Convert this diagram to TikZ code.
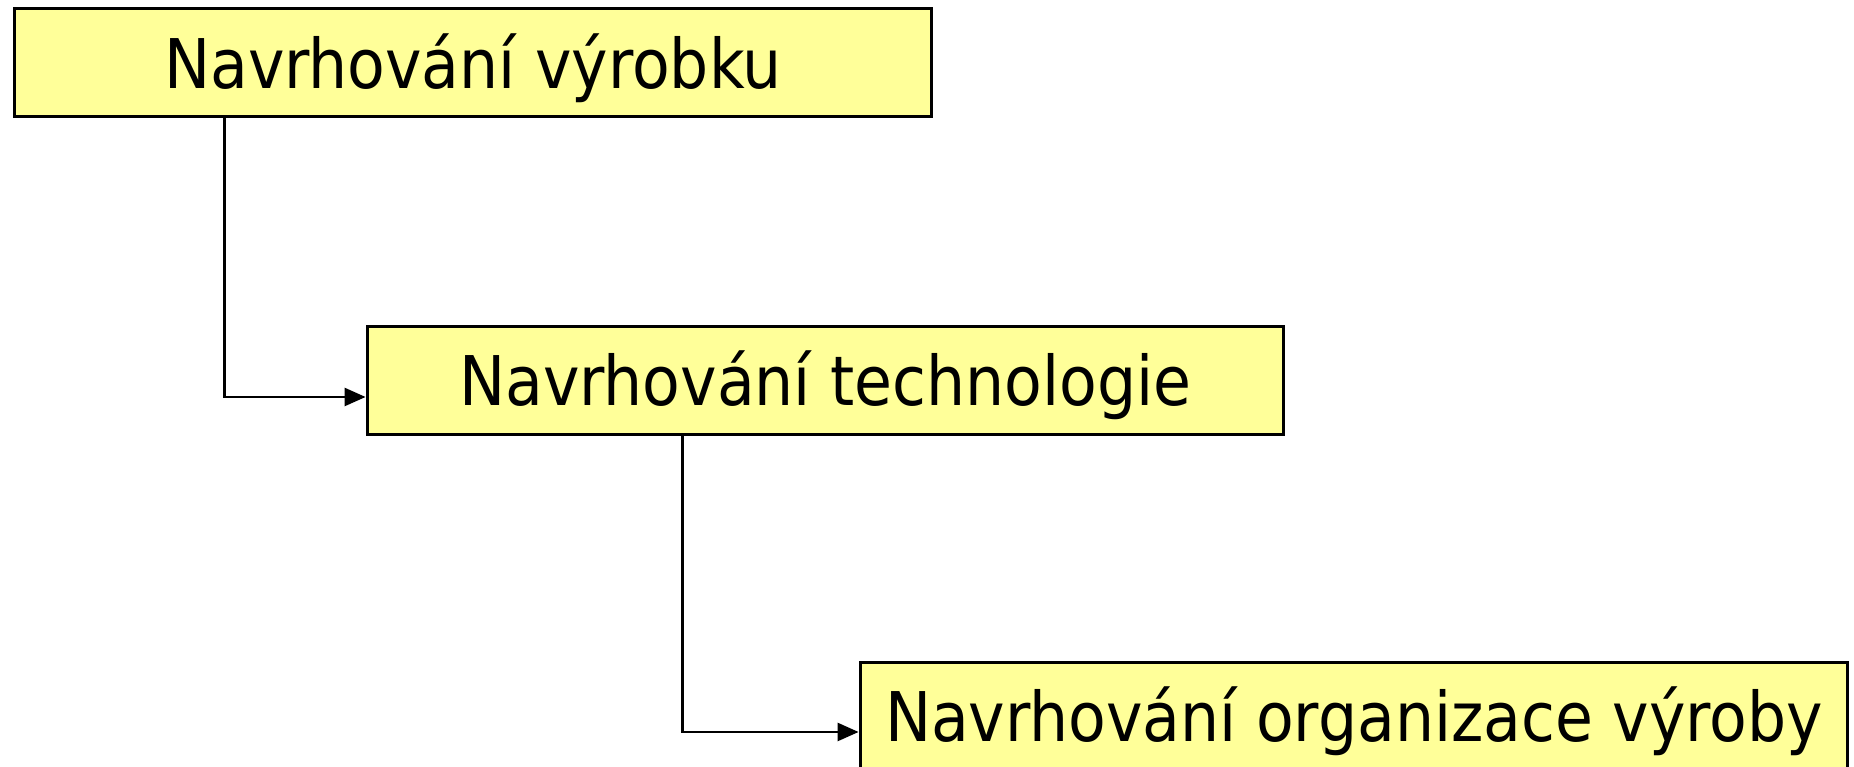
\documentclass[tikz,border=0pt]{standalone}
\usepackage{fontspec}
\setmainfont{DejaVu Sans Condensed}
\usepackage{tikz}
\usetikzlibrary{arrows.meta,calc}
\definecolor{boxfill}{HTML}{FFFF99}
\tikzset{
  phase/.style={draw=black, line width=0.06cm, fill=boxfill, inner sep=0pt,
    minimum height=2.16cm, text height=1.02cm, text depth=0pt,
    font=\fontsize{39}{41}\selectfont},
  link/.style={line width=0.05cm, -{Triangle[length=0.42cm,width=0.36cm]}}
}
\begin{document}
\begin{tikzpicture}[x=0.02cm, y=0.02cm]
    \useasboundingbox (0,0) rectangle (1854,767);
    \node[phase, minimum width=18.36cm] (vyrobek) at (473, 704) {Navrhování výrobku};
    \node[phase, minimum width=18.34cm] (technologie) at (825.5, 386.5) {Navrhování technologie};
    \node[phase, minimum width=19.76cm] (organizace) at (1354, 51) {Navrhování organizace výroby};

    % stepped connectors from each box into the next one
    \draw[link] ([xshift=4.24cm]vyrobek.south west) |- ([yshift=-0.33cm]technologie.west);
    \draw[link] ([xshift=6.34cm]technologie.south west) |- ([yshift=-0.32cm]organizace.west);
  \end{tikzpicture}
\end{document}
